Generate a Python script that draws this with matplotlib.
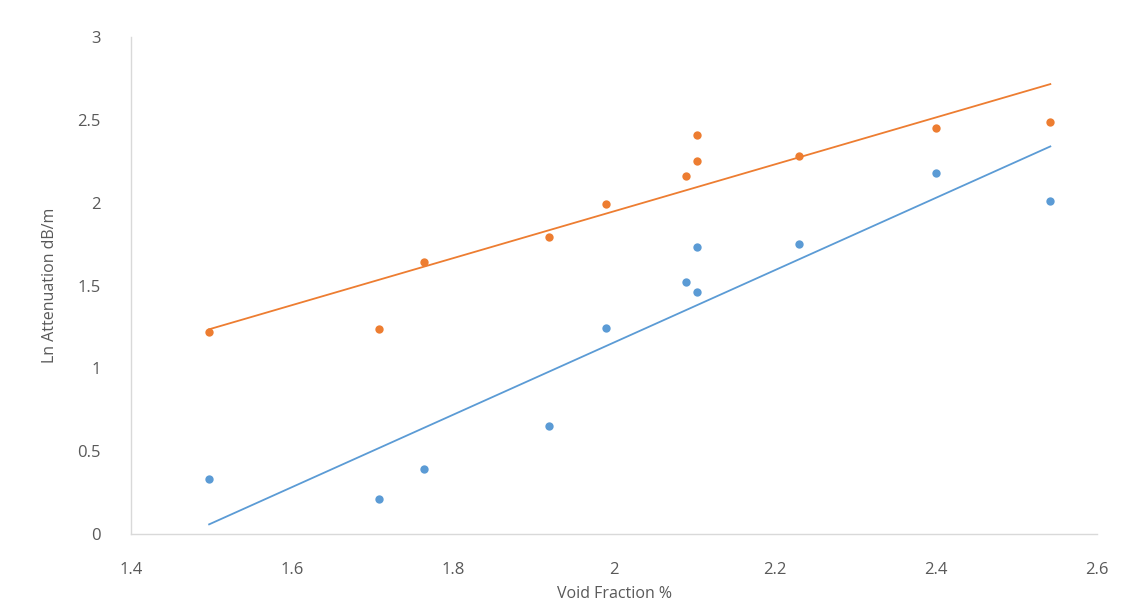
import matplotlib
matplotlib.use("Agg")
import matplotlib.pyplot as plt
import numpy as np

plt.rcParams['font.family'] = ['Open Sans', 'DejaVu Sans']

void_fraction = [1.497, 1.708, 1.764, 1.919, 1.99, 2.09, 2.103, 2.103, 2.23, 2.4, 2.542]
series_blue = [0.33, 0.21, 0.39, 0.65, 1.245, 1.52, 1.46, 1.73, 1.75, 2.18, 2.01]
void_fraction_orange = [1.497, 1.708, 1.764, 1.919, 1.99, 2.09, 2.103, 2.103, 2.23, 2.4, 2.542]
series_orange = [1.22, 1.24, 1.64, 1.79, 1.99, 2.16, 2.25, 2.41, 2.28, 2.45, 2.49]
x_ticks = [1.4, 1.6, 1.8, 2, 2.2, 2.4, 2.6]
y_ticks = [0, 0.5, 1, 1.5, 2, 2.5, 3]

BLUE = '#5B9BD5'
ORANGE = '#ED7D31'
GRAY = '#595959'

fig = plt.figure(figsize=(11.21, 6.15), dpi=100)
ax = fig.add_axes([0.1169, 0.1317, 0.8617, 0.8081])

for xs, ys, c in [(void_fraction, series_blue, BLUE), (void_fraction_orange, series_orange, ORANGE)]:
    xs = np.array(xs); ys = np.array(ys)
    ax.plot(xs, ys, 'o', color=c, markersize=6, markeredgewidth=0, zorder=3)
    m, b = np.polyfit(xs, ys, 1)
    xl = np.array([xs.min(), xs.max()])
    ax.plot(xl, m * xl + b, color=c, linewidth=1.3, zorder=2)

ax.set_xlim(1.4, 2.6)
ax.set_ylim(0, 3)
ax.set_xticks(x_ticks)
ax.set_yticks(y_ticks)
ax.set_xticklabels([f"{v:g}" for v in x_ticks])
ax.set_yticklabels([f"{v:g}" for v in y_ticks])
ax.tick_params(axis='both', length=0, labelsize=12, colors=GRAY)
ax.tick_params(axis='x', pad=20)
ax.tick_params(axis='y', pad=22)
for s in ['top', 'right']:
    ax.spines[s].set_visible(False)
for s in ['left', 'bottom']:
    ax.spines[s].set_color('#D9D9D9')
    ax.spines[s].set_linewidth(1.0)

ax.set_xlabel('Void Fraction %', fontsize=11.5, color=GRAY, labelpad=6)
ax.set_ylabel('Ln Attenuation dB/m', fontsize=11.5, color=GRAY, labelpad=14)

fig.savefig('out.png', dpi=100, facecolor='white')
